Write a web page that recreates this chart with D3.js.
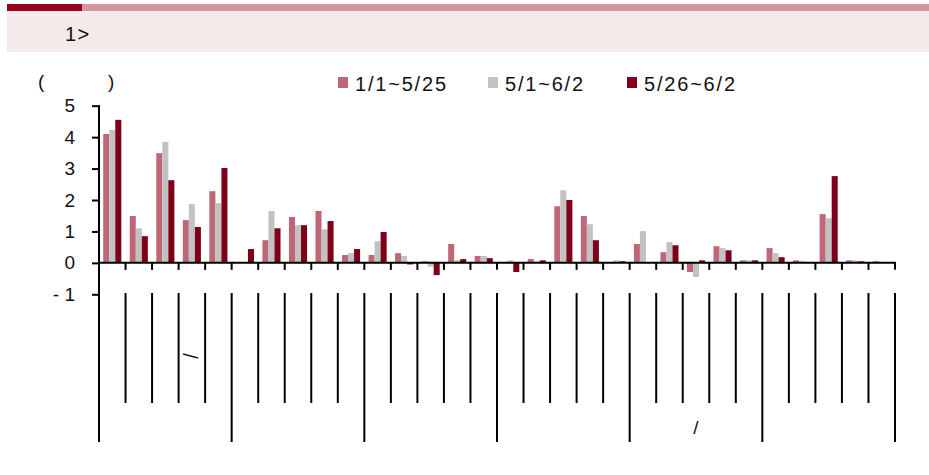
<!DOCTYPE html>
<meta charset="utf-8">
<script src="https://d3js.org/d3.v7.min.js"></script>
<body>
<div id="chart"></div>
<style>
 body { margin: 0; background: #fff; }
 text { font-family: Arial, "Liberation Sans", sans-serif; fill: #111; }
</style>
<script>

// chart values
var categories = d3.range(1, 31);              // 30 categories, labels not legible
var catLabels = ["", "", "", "/", "", "", "", "", "", "", "", "", "", "", "", "", "", "", "", "", "", "", "", "", "", "", "", "", "", ""];
var groupLabels = ["", "", "", "", "/", ""];   // one label per 5 categories
var seriesNames = ["1/1~5/25", "5/1~6/2", "5/26~6/2"];
var s1 = [4.10, 1.49, 3.49, 1.36, 2.28, 0.00, 0.72, 1.46, 1.65, 0.25, 0.25, 0.31, 0.05, 0.60, 0.22,
          0.00, 0.12, 1.80, 1.49, 0.00, 0.60, 0.34, -0.29, 0.53, 0.08, 0.47, 0.08, 1.55, 0.08, 0.05];
var s2 = [4.23, 1.10, 3.85, 1.87, 1.90, 0.00, 1.65, 1.20, 1.07, 0.31, 0.69, 0.22, -0.12, 0.08, 0.22,
          0.08, 0.05, 2.31, 1.23, 0.08, 1.01, 0.66, -0.45, 0.47, 0.08, 0.31, 0.05, 1.42, 0.08, 0.00];
var s3 = [4.55, 0.85, 2.63, 1.14, 3.02, 0.44, 1.10, 1.20, 1.33, 0.44, 0.98, -0.05, -0.39, 0.12, 0.15,
          -0.29, 0.08, 2.00, 0.72, 0.05, 0.00, 0.56, 0.08, 0.40, 0.08, 0.18, 0.00, 2.76, 0.05, 0.00];
var yTicks = [-1, 0, 1, 2, 3, 4, 5];

var colors = ["#c06777", "#c2c2c2", "#7d0018"];
var allSeries = [s1, s2, s3];

var W = 929, H = 475;
var svg = d3.select("#chart").append("svg")
    .attr("width", W).attr("height", H);

// header strip
svg.append("rect").attr("x", 7).attr("y", 4).attr("width", 75).attr("height", 7).attr("fill", "#98001f");
svg.append("rect").attr("x", 82).attr("y", 4).attr("width", W - 82).attr("height", 7).attr("fill", "#d4969f");
svg.append("rect").attr("x", 7).attr("y", 11).attr("width", W - 7).attr("height", 41).attr("fill", "#f5e9e9");
svg.append("text").attr("x", 65).attr("y", 41).style("font-size", "20px")
  .style("letter-spacing", "1.5px").text("1>");

// scales
var x0 = d3.scaleBand().domain(categories).range([99, 895]);
var x1 = d3.scaleBand().domain([0, 1, 2]).range([0, x0.bandwidth()]).paddingOuter(0.7);
var y = d3.scaleLinear().domain([-1, 5]).range([294.3, 105.7]);

// unit label
svg.append("text").attr("x", 38).attr("y", 88).style("font-size", "19px").text("(");
svg.append("text").attr("x", 108).attr("y", 88).style("font-size", "19px").text(")");

// legend
var lx = [338, 488, 627];
seriesNames.forEach(function(n, i) {
  svg.append("rect").attr("x", lx[i]).attr("y", 77).attr("width", 10).attr("height", 11).attr("fill", colors[i]);
  svg.append("text").attr("x", lx[i] + 17).attr("y", 91).style("font-size", "20px")
    .style("letter-spacing", "1.8px").text(n);
});

// bars
var g = svg.append("g");
allSeries.forEach(function(vals, si) {
  g.selectAll(".b" + si)
    .data(vals)
    .enter().append("rect")
      .attr("x", function(d, i) { return x0(categories[i]) + x1(si); })
      .attr("y", function(d) { return y(Math.max(0, d)); })
      .attr("width", x1.bandwidth())
      .attr("height", function(d) { return Math.abs(y(d) - y(0)); })
      .attr("fill", colors[si]);
});

// y axis
var yAxis = svg.append("g").attr("transform", "translate(99,0)")
  .call(d3.axisLeft(y).tickValues(yTicks).tickSize(7).tickPadding(17)
    .tickFormat(function(d) { return d < 0 ? "- " + Math.abs(d) : d; }));
yAxis.select(".domain").remove();
yAxis.selectAll("line").attr("stroke", "#000").attr("stroke-width", 2);
yAxis.selectAll("text").style("font-size", "19px").attr("fill", "#111");
svg.append("line").attr("x1", 99).attr("x2", 99).attr("y1", 105).attr("y2", 442)
  .attr("stroke", "#000").attr("stroke-width", 2);

// x axis at zero with ticks on category boundaries
var bounds = d3.range(0, categories.length + 1).map(function(i) {
  return i < categories.length ? x0(categories[i]) : x0.range()[1];
});
svg.append("line").attr("x1", 99).attr("x2", 896).attr("y1", y(0)).attr("y2", y(0))
  .attr("stroke", "#000").attr("stroke-width", 2);
svg.selectAll(".xt").data(bounds.slice(1)).enter().append("line")
  .attr("x1", function(d) { return d; }).attr("x2", function(d) { return d; })
  .attr("y1", y(0)).attr("y2", y(0) + 7)
  .attr("stroke", "#000").attr("stroke-width", 2);

// category label dividers below the plot
svg.selectAll(".cd").data(bounds.slice(1)).enter().append("line")
  .attr("x1", function(d) { return d; }).attr("x2", function(d) { return d; })
  .attr("y1", 293)
  .attr("y2", function(d, i) { return (i + 1) % 5 === 0 ? 442 : 403; })
  .attr("stroke", "#000").attr("stroke-width", 2);

// category labels (vertical text)
svg.selectAll(".cl").data(catLabels).enter().append("text")
  .attr("transform", function(d, i) {
    return "translate(" + (x0(categories[i]) + x0.bandwidth() / 2 - 9) + ",356) rotate(90)";
  })
  .attr("text-anchor", "middle")
  .style("font-size", "20px")
  .text(function(d) { return d; });

// group labels
svg.selectAll(".gl").data(groupLabels).enter().append("text")
  .attr("x", function(d, i) { return (bounds[i * 5] + bounds[i * 5 + 5]) / 2; })
  .attr("y", 434)
  .attr("text-anchor", "middle")
  .style("font-size", "19px")
  .text(function(d) { return d; });

</script>
</body>
